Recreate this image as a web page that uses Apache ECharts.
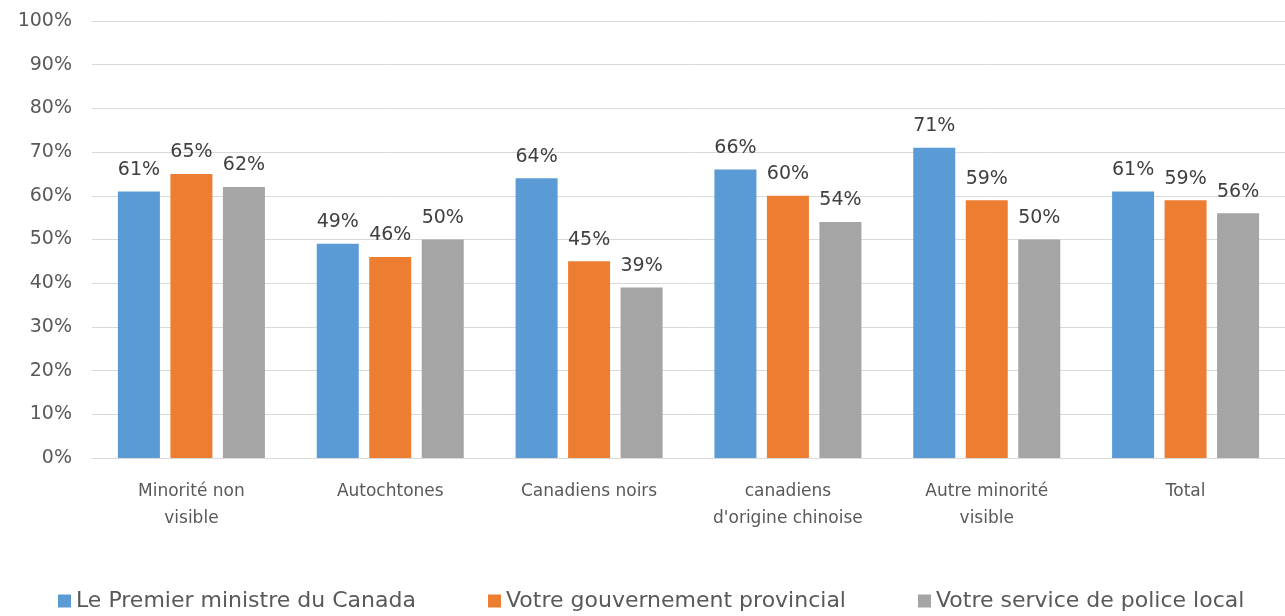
<!DOCTYPE html>
<html>
<head>
<meta charset="utf-8">
<script src="https://cdn.jsdelivr.net/npm/echarts@6/dist/echarts.min.js"></script>
<style>html,body{margin:0;padding:0;background:#fff}#c{width:1285px;height:616px}</style>
</head>
<body>
<div id="c"></div>
<script>
var categories = ["Minorité non\nvisible", "Autochtones", "Canadiens noirs", "canadiens\nd'origine chinoise", "Autre minorité\nvisible", "Total"];
var seriesNames = ["Le Premier ministre du Canada", "Votre gouvernement provincial", "Votre service de police local"];
var premierMinistre = [61, 49, 64, 66, 71, 61];
var gouvProvincial = [65, 46, 45, 60, 59, 59];
var policeLocal = [62, 50, 39, 54, 50, 56];
var colors = ["#5B9BD5", "#ED7D31", "#A5A5A5"];
var font = "DejaVu Sans";

var chart = echarts.init(document.getElementById('c'));
function mk(name, data, color) {
  return {
    name: name, type: 'bar', data: data,
    barWidth: 42, barGap: '25%',
    itemStyle: { color: color },
    label: { show: true, position: 'top', distance: 12, formatter: '{c}%',
      fontFamily: font, fontSize: 19, color: '#404040' }
  };
}
var legendLefts = [53, 483, 913];
var legends = seriesNames.map(function (n, i) {
  return {
    top: 585, left: legendLefts[i], itemWidth: 13, itemHeight: 13, icon: 'rect',
    textStyle: { fontFamily: font, fontSize: 22, color: '#595959' },
    data: [n]
  };
});
chart.setOption({
  animation: false,
  textStyle: { fontFamily: font },
  color: colors,
  grid: { left: 92, right: -10, top: 21, bottom: 158 },
  xAxis: {
    type: 'category', data: categories,
    axisLine: { lineStyle: { color: '#D9D9D9' } },
    axisTick: { show: false },
    axisLabel: { fontFamily: font, fontSize: 17, color: '#595959', margin: 20, lineHeight: 27, interval: 0 }
  },
  yAxis: {
    type: 'value', min: 0, max: 100, interval: 10,
    axisLabel: { formatter: '{value}%', fontFamily: font, fontSize: 19, color: '#595959', margin: 20 },
    splitLine: { lineStyle: { color: '#D9D9D9' } },
    axisLine: { show: false }, axisTick: { show: false }
  },
  legend: legends,
  series: [
    mk(seriesNames[0], premierMinistre, colors[0]),
    mk(seriesNames[1], gouvProvincial, colors[1]),
    mk(seriesNames[2], policeLocal, colors[2])
  ]
});
</script>
</body>
</html>
